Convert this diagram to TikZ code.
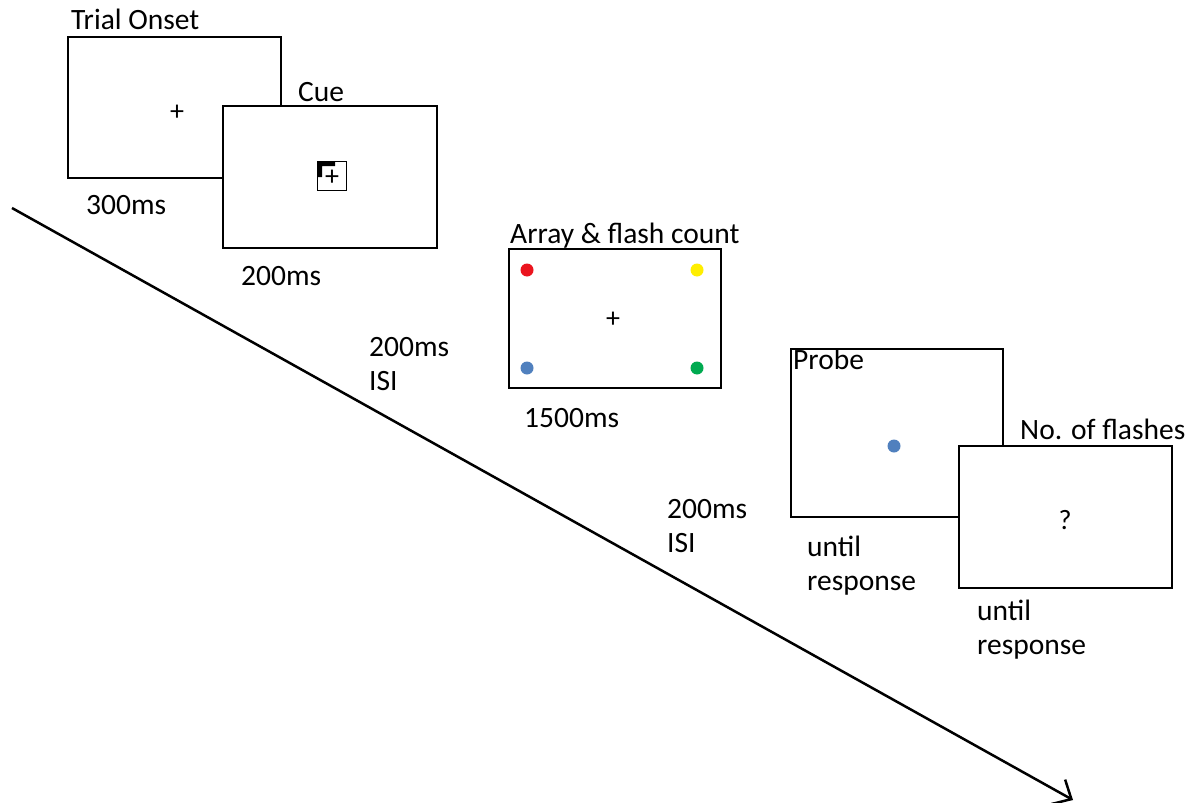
\documentclass[tikz,border=0pt]{standalone}
\usepackage{fontspec}
\setmainfont{Carlito}
\usetikzlibrary{arrows.meta}
\definecolor{dotred}{RGB}{235,20,30}
\definecolor{dotyellow}{RGB}{255,238,0}
\definecolor{dotblue}{RGB}{80,128,190}
\definecolor{dotgreen}{RGB}{0,170,80}
\tikzset{
  screen/.style={draw=black, line width=2pt, fill=white},
  lbl/.style={anchor=base west, inner sep=0pt, font=\fontsize{29.5}{34}\selectfont, align=left},
  fixmark/.style={inner sep=0pt, font=\fontsize{28}{30}\selectfont},
  dot/.style={circle, inner sep=0pt, minimum size=13pt, draw=none}
}
\begin{document}
\begin{tikzpicture}[x=1pt,y=-1pt]
\useasboundingbox (0,0) rectangle (1195,803);
% time arrow
\coordinate (tstart) at (12,208);
\coordinate (tend) at (1073,800);
\draw[line width=2.5pt, -{Straight Barb[length=15pt,width=28pt,line width=2.5pt]}] (tstart) -- (tend);
% Trial onset
\node[screen, minimum width=213pt, minimum height=141pt, anchor=north west] (onset) at (67,36) {};
\node[fixmark] (onsetfix) at (177,113) {+};
\node[lbl] (onsetlbl) at (71,29) {Trial Onset};
\node[lbl] (onsettime) at (86,214) {300ms};
% Cue
\node[screen, minimum width=214pt, minimum height=142pt, anchor=north west] (cue) at (222,105) {};
\node[draw=black, line width=1pt, minimum size=29pt, inner sep=0pt] (cuesq) at (332,176) {};
\fill[black] (cuesq.north west) -- ++(18,0) -- ++(0,5) -- ++(-13,0) -- ++(0,11) -- ++(-5,0) -- cycle;
\node[fixmark] (cuefix) at (332,178) {+};
\node[lbl] (cuelbl) at (298,101) {Cue};
\node[lbl] (cuetime) at (241,285) {200ms};
% ISI 1
\node[lbl] (isi1) at (369,390) {200ms\\ISI};
% Array
\node[screen, minimum width=212pt, minimum height=139pt, anchor=north west] (array) at (508,248) {};
\node[lbl] (arraylbl) at (510,243) {Array \& flash count};
\node[dot, fill=dotred] (dr) at (527,270) {};
\node[dot, fill=dotyellow] (dy) at (697,270) {};
\node[dot, fill=dotblue] (db) at (527,368) {};
\node[dot, fill=dotgreen] (dg) at (697,368) {};
\node[fixmark] (arrayfix) at (613,320) {+};
\node[lbl] (arraytime) at (524,427) {1500ms};
% ISI 2
\node[lbl] (isi2) at (667,552) {200ms\\ISI};
% Probe
\node[screen, minimum width=212pt, minimum height=168pt, anchor=north west] (probe) at (790,348) {};
\node[lbl] (probelbl) at (793,369) {Probe};
\node[dot, fill=dotblue] (pdot) at (894,446) {};
\node[lbl] (probetime) at (807,590) {until\\response};
% No. of flashes
\node[screen, minimum width=213pt, minimum height=142pt, anchor=north west] (flash) at (958,445) {};
\node[lbl] (flashlbl) at (1020,439) {No. of flashes};
\node[fixmark] (flashq) at (1065,520) {?};
\node[lbl] (flashtime) at (977,654) {until\\response};
\end{tikzpicture}
\end{document}
